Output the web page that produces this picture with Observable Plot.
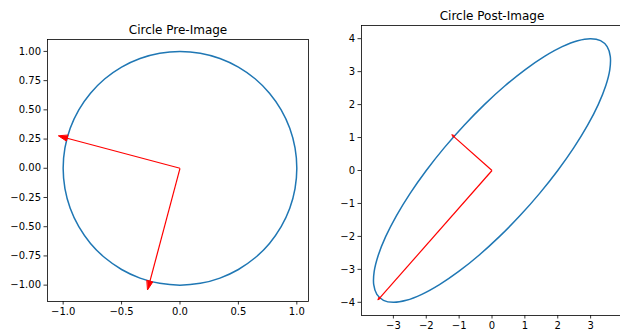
<!DOCTYPE html>
<html>
<head>
<meta charset="utf-8">
<script src="https://cdn.jsdelivr.net/npm/d3@7"></script>
<script src="https://cdn.jsdelivr.net/npm/@observablehq/plot@0.6"></script>
<style>
  html, body { margin: 0; padding: 0; background: #fff; }
  #fig { position: relative; width: 620px; height: 331px; overflow: hidden; background: #fff; font-family: "DejaVu Sans", sans-serif; }
  #fig > svg { position: absolute; top: 0; }
</style>
</head>
<body>
<div id="fig"></div>
<script>
// ---- data ----
const titles = ["Circle Pre-Image", "Circle Post-Image"];

// unit circle, sampled every 10 degrees
const circleX = [1, 0.9848, 0.9397, 0.8660, 0.7660, 0.6428, 0.5, 0.3420, 0.1736, 0, -0.1736, -0.3420, -0.5, -0.6428, -0.7660, -0.8660, -0.9397, -0.9848,
                 -1, -0.9848, -0.9397, -0.8660, -0.7660, -0.6428, -0.5, -0.3420, -0.1736, 0, 0.1736, 0.3420, 0.5, 0.6428, 0.7660, 0.8660, 0.9397, 0.9848];
const circleY = [0, 0.1736, 0.3420, 0.5, 0.6428, 0.7660, 0.8660, 0.9397, 0.9848, 1, 0.9848, 0.9397, 0.8660, 0.7660, 0.6428, 0.5, 0.3420, 0.1736,
                 0, -0.1736, -0.3420, -0.5, -0.6428, -0.7660, -0.8660, -0.9397, -0.9848, -1, -0.9848, -0.9397, -0.8660, -0.7660, -0.6428, -0.5, -0.3420, -0.1736];

// image of the circle (ellipse)
const ellipseX = [2, 2.490, 2.905, 3.232, 3.460, 3.584, 3.598, 3.503, 3.302, 3, 2.607, 2.135, 1.598, 1.012, 0.396, -0.232, -0.853, -1.449,
                  -2, -2.490, -2.905, -3.232, -3.460, -3.584, -3.598, -3.503, -3.302, -3, -2.607, -2.135, -1.598, -1.012, -0.396, 0.232, 0.853, 1.449];
const ellipseY = [0, 0.694, 1.368, 2.0, 2.571, 3.064, 3.464, 3.759, 3.939, 4, 3.939, 3.759, 3.464, 3.064, 2.571, 2.0, 1.368, 0.694,
                  0, -0.694, -1.368, -2.0, -2.571, -3.064, -3.464, -3.759, -3.939, -4, -3.939, -3.759, -3.464, -3.064, -2.571, -2.0, -1.368, -0.694];

// vectors drawn as red arrows
const preVecX = [-0.966, -0.257];
const preVecY = [0.257, -0.966];
const postVecX = [-1.161, -3.413];
const postVecY = [1.028, -3.866];

// ticks
const leftXTicks = [-1.0, -0.5, 0.0, 0.5, 1.0];
const leftYTicks = [-1.0, -0.75, -0.5, -0.25, 0.0, 0.25, 0.5, 0.75, 1.0];
const rightXTicks = [-3, -2, -1, 0, 1, 2, 3];
const rightYTicks = [-4, -3, -2, -1, 0, 1, 2, 3, 4];

// ---- helpers ----
const blue = "#1f77b4";
const headWidth = 0.05, headLength = 0.075;

function curvePoints(xs, ys) { return xs.map((x, i) => ({x, y: ys[i]})); }
function shafts(xs, ys) { return xs.map((x, i) => ({x1: 0, y1: 0, x2: x, y2: ys[i]})); }
function heads(xs, ys) {
  const pts = [];
  xs.forEach((x, i) => {
    const y = ys[i], L = Math.hypot(x, y), ux = x / L, uy = y / L, nx = -uy, ny = ux;
    pts.push({id: i, x: x + ux * headLength, y: y + uy * headLength});
    pts.push({id: i, x: x + nx * headWidth / 2, y: y + ny * headWidth / 2});
    pts.push({id: i, x: x - nx * headWidth / 2, y: y - ny * headWidth / 2});
  });
  return pts;
}

function panel({title, curveX, curveY, vx, vy, xDomain, yDomain, xTicks, yTicks, xFmt, yFmt, width, height, margins}) {
  return Plot.plot({
    width, height,
    marginLeft: margins[0], marginRight: margins[1], marginTop: margins[2], marginBottom: margins[3],
    style: {fontFamily: "DejaVu Sans, sans-serif", fontSize: "10px", color: "#000", background: "transparent", overflow: "visible"},
    x: {domain: xDomain},
    y: {domain: yDomain},
    marks: [
      Plot.line(curvePoints(curveX, curveY), {x: "x", y: "y", stroke: blue, strokeWidth: 1.5, curve: "catmull-rom-closed"}),
      Plot.link(shafts(vx, vy), {x1: "x1", y1: "y1", x2: "x2", y2: "y2", stroke: "red", strokeWidth: 1.2}),
      Plot.line(heads(vx, vy), {x: "x", y: "y", z: "id", fill: "red", stroke: "red", strokeWidth: 1, curve: "linear-closed"}),
      Plot.frame({stroke: "#000", strokeWidth: 0.8}),
      Plot.axisX({ticks: xTicks, tickFormat: xFmt, tickSize: 3.5, tickPadding: 3, strokeWidth: 0.8, fontSize: 10, label: null}),
      Plot.axisY({ticks: yTicks, tickFormat: yFmt, tickSize: 3.5, tickPadding: 3, strokeWidth: 0.8, fontSize: 10, label: null}),
      Plot.text([title], {frameAnchor: "top", dy: -6, lineAnchor: "bottom", fontSize: 12, text: d => d})
    ]
  });
}

const fig = document.getElementById("fig");

const left = panel({
  title: titles[0], curveX: circleX, curveY: circleY, vx: preVecX, vy: preVecY,
  xDomain: [-1.134, 1.1], yDomain: [-1.14, 1.102],
  xTicks: leftXTicks, yTicks: leftYTicks, xFmt: d3.format(".1f"), yFmt: d3.format(".2f"),
  width: 310, height: 331, margins: [47, 2, 39, 30]
});
left.style.left = "0px";
fig.appendChild(left);

const right = panel({
  title: titles[1], curveX: ellipseX, curveY: ellipseY, vx: postVecX, vy: postVecY,
  xDomain: [-3.97, 3.97], yDomain: [-4.4, 4.4],
  xTicks: rightXTicks, yTicks: rightYTicks, xFmt: d3.format("d"), yFmt: d3.format("d"),
  width: 312, height: 331, margins: [51, 0, 25, 16]
});
right.style.left = "310px";
fig.appendChild(right);
</script>
</body>
</html>
